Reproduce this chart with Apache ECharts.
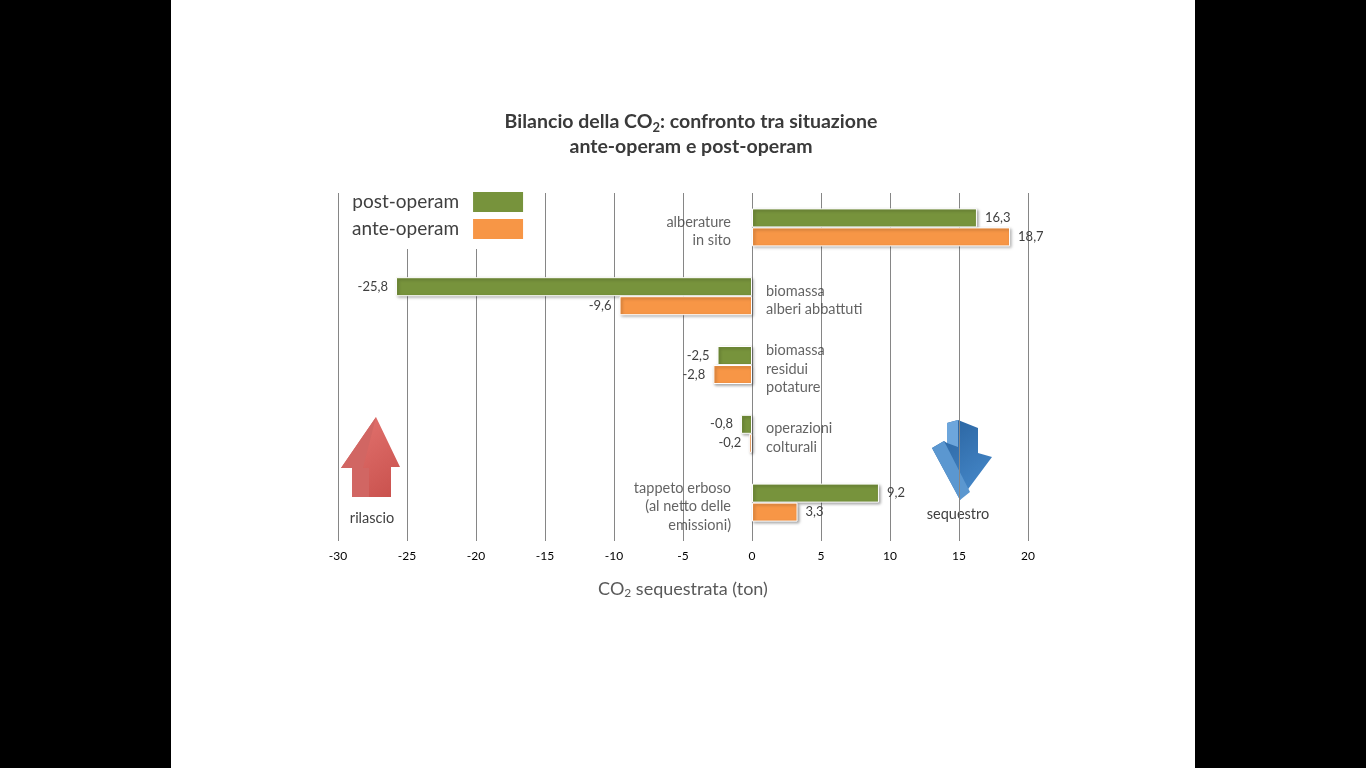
<!DOCTYPE html>
<html>
<head>
<meta charset="utf-8">
<script src="https://cdn.jsdelivr.net/npm/echarts@6/dist/echarts.min.js"></script>
<style>
  html, body { margin: 0; padding: 0; background: #000; }
  #main { position: absolute; left: 171px; top: 0; width: 1024px; height: 768px; background: #fff; }
</style>
</head>
<body>
<div id="main"></div>
<script>
// categorie (dall'alto in basso)
var categories = [
    'alberature\nin sito',
    'biomassa\nalberi abbattuti',
    'biomassa\nresidui\npotature',
    'operazioni\ncolturali',
    'tappeto erboso\n(al netto delle\nemissioni)'
];
var seriesNames = ['post-operam', 'ante-operam'];
var postOperam = [16.3, -25.8, -2.5, -0.8, 9.2];
var anteOperam = [18.7, -9.6, -2.8, -0.2, 3.3];
var xMin = -30, xMax = 20, xStep = 5;

var colors = ['#77933C', '#F79646'];
var font = 'Lato, "Open Sans", sans-serif';
var textColor = '#404040';

var myChart = echarts.init(document.getElementById('main'));

function fmt(v) {
    return v.toFixed(1).replace('.', ',');
}

function barData(values) {
    return values.map(function (v) {
        return { value: v, label: { position: v < 0 ? 'left' : 'right' } };
    });
}

function barSeries(name, values, color) {
    return {
        name: name,
        type: 'bar',
        barWidth: 19,
        barGap: '0%',
        itemStyle: {
            color: color,
            borderColor: '#fff',
            borderWidth: 1,
            shadowColor: 'rgba(0,0,0,0.35)',
            shadowBlur: 3,
            shadowOffsetX: 1.5,
            shadowOffsetY: 1.5
        },
        label: {
            show: true,
            distance: 8,
            color: textColor,
            fontFamily: font,
            fontSize: 13,
            formatter: function (p) { return fmt(p.value); }
        },
        data: barData(values)
    };
}

// etichette di categoria accanto allo zero
var catLabels = categories.map(function (c, i) {
    var left = postOperam[i] >= 0;
    return {
        value: [0, i],
        label: { position: left ? 'left' : 'right', distance: left ? 21 : 14 }
    };
});

// frecce decorative
function poly(points, fill) {
    return { type: 'polygon', shape: { points: points }, style: { fill: fill } };
}

function note(text, x, y) {
    return {
        type: 'text', x: x, y: y,
        style: { text: text, fill: textColor, font: '14.5px ' + font, align: 'center', verticalAlign: 'middle' }
    };
}

var redFront = new echarts.graphic.LinearGradient(0, 0, 1, 1, [
    { offset: 0, color: '#e57672' }, { offset: 1, color: '#c8504c' }]);
var blueFront = new echarts.graphic.LinearGradient(0, 0, 1, 1, [
    { offset: 0, color: '#27609c' }, { offset: 1, color: '#4a8ed0' }]);

myChart.setOption({
    color: colors,
    textStyle: { fontFamily: font },
    title: {
        text: 'Bilancio della CO{sub|2}: confronto tra situazione\nante-operam e post-operam',
        left: 515,
        top: 104,
        textAlign: 'center',
        textStyle: {
            fontFamily: font,
            fontSize: 19.5,
            fontWeight: 'bold',
            color: '#3a3a3a',
            lineHeight: 25,
            rich: {
                sub: { fontSize: 13, fontWeight: 'bold', color: '#3a3a3a', fontFamily: font, verticalAlign: 'bottom', padding: [8, 0, 0, 0] }
            }
        }
    },
    legend: {
        data: seriesNames,
        orient: 'vertical',
        align: 'right',
        left: 181,
        top: 192,
        padding: [0, 0, 10, 0],
        backgroundColor: '#fff',
        itemWidth: 50,
        itemHeight: 20,
        itemGap: 7,
        icon: 'rect',
        itemStyle: { borderWidth: 0, shadowBlur: 0 },
        textStyle: { fontFamily: font, fontSize: 19, color: textColor, padding: [0, 9, 0, 0] }
    },
    grid: { left: 167, right: 167, top: 193, bottom: 231 },
    xAxis: {
        type: 'value',
        min: xMin,
        max: xMax,
        interval: xStep,
        name: 'CO{sub|2} sequestrata (ton)',
        nameLocation: 'middle',
        nameGap: 43,
        nameTextStyle: {
            fontFamily: font,
            fontSize: 18,
            color: '#595959',
            rich: { sub: { fontSize: 12, color: '#595959', fontFamily: font, verticalAlign: 'bottom', padding: [7, 0, 0, 0] } }
        },
        axisLine: { lineStyle: { color: '#868686' } },
        axisTick: { show: true, length: 4, lineStyle: { color: '#868686' } },
        axisLabel: { color: '#000', fontSize: 12, fontFamily: font, margin: 13 },
        splitLine: { lineStyle: { color: '#868686' } }
    },
    yAxis: {
        type: 'category',
        inverse: true,
        data: categories,
        axisLine: { show: false },
        axisTick: { show: false },
        axisLabel: { show: false },
        splitLine: { show: false }
    },
    series: [
        barSeries(seriesNames[0], postOperam, colors[0]),
        barSeries(seriesNames[1], anteOperam, colors[1]),
        {
            name: 'categorie',
            type: 'scatter',
            symbolSize: 0,
            silent: true,
            z: 5,
            label: {
                show: true,
                color: '#3c3c3c',
                fontFamily: font,
                fontSize: 14.5,
                lineHeight: 18.5,
                offset: [0, 4],
                formatter: function (p) { return categories[p.dataIndex]; }
            },
            data: catLabels
        }
    ],
    graphic: [
        // freccia rossa (rilascio)
        poly([[205, 417], [229, 467], [220, 467], [220, 497], [181, 497], [181, 468], [170, 468]], redFront),
        poly([[205, 417], [170, 468], [181, 468], [181, 497], [198, 497], [198, 468], [192, 468]], '#d16663'),
        note('rilascio', 201, 518),
        // freccia blu (sequestro)
        poly([[776, 423], [787, 420], [807, 428], [807, 453], [821, 457], [789, 500], [761, 448], [773, 441], [776, 443]], blueFront),
        poly([[761, 448], [773, 441], [799, 492], [789, 500]], '#5b97d0'),
        poly([[776, 423], [787, 420], [787, 447], [776, 443]], '#6da6dc'),
        note('sequestro', 787, 514)
    ]
});
</script>
</body>
</html>
